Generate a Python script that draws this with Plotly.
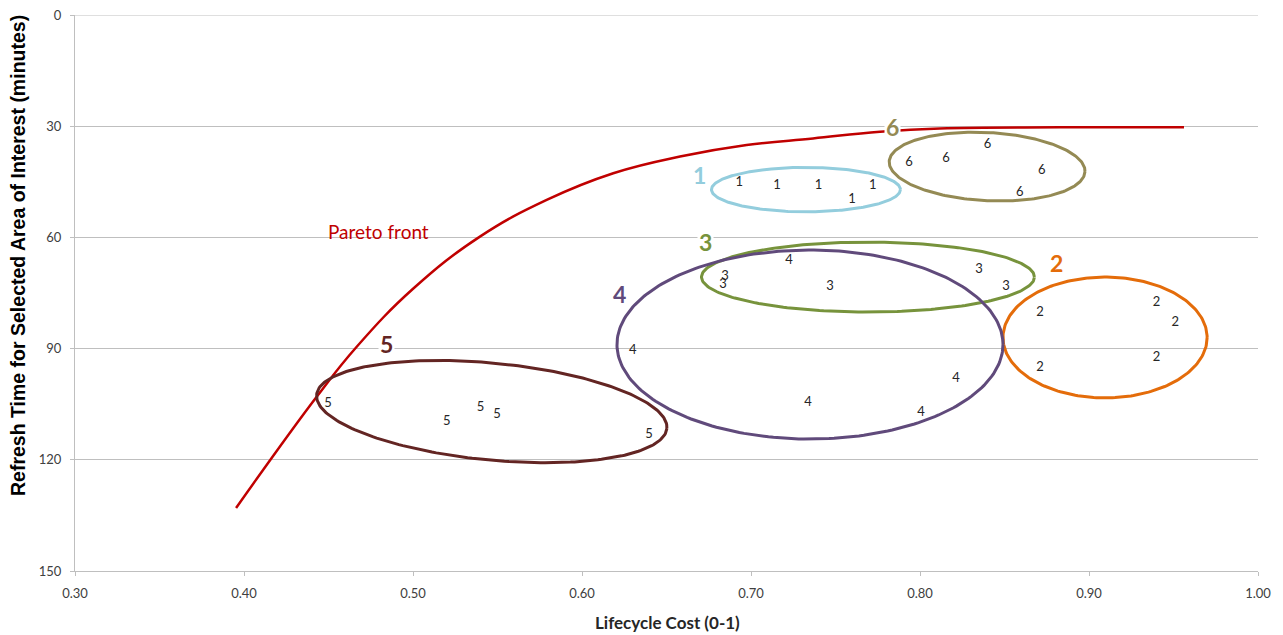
import numpy as np
import plotly.graph_objects as go

# ---------------- data ----------------
x_ticks = [0.30, 0.40, 0.50, 0.60, 0.70, 0.80, 0.90, 1.00]
y_ticks = [0, 30, 60, 90, 120, 150]

# Pareto front
pareto_x = [0.3953, 0.4430, 0.4667, 0.5002, 0.5396, 0.5791, 0.6185,
            0.6580, 0.6974, 0.7367, 0.7763, 0.8118, 0.8828, 0.9562]
pareto_y = [133.0, 103.0, 89.5, 73.8, 59.8, 49.9, 42.7,
            38.2, 35.1, 33.3, 31.5, 30.6, 30.3, 30.3]

# cluster member points (labelled by cluster number)
c1_x = [0.693, 0.7154, 0.740, 0.7598, 0.772]
c1_y = [45.3, 46.1, 46.1, 49.9, 46.1]
c2_x = [0.871, 0.940, 0.951, 0.871, 0.940]
c2_y = [80.4, 77.7, 83.1, 95.2, 92.5]
c3_x = [0.6846, 0.6834, 0.7467, 0.8349, 0.8509]
c3_y = [70.7, 72.8, 73.4, 68.8, 73.4]
c4_x = [0.7225, 0.630, 0.7337, 0.8213, 0.8006]
c4_y = [66.4, 90.6, 104.7, 98.2, 107.4]
c5_x = [0.4497, 0.520, 0.540, 0.5497, 0.6396]
c5_y = [104.9, 109.8, 106.0, 107.9, 113.3]
c6_x = [0.7935, 0.8154, 0.840, 0.872, 0.859]
c6_y = [39.9, 38.8, 35.1, 42.1, 48.0]

cluster_names = ["1", "2", "3", "4", "5", "6"]
cluster_colors = ["#93CDDD", "#E46C0A", "#77933C", "#604A7B", "#632523", "#948A54"]
cluster_xs = [c1_x, c2_x, c3_x, c4_x, c5_x, c6_x]
cluster_ys = [c1_y, c2_y, c3_y, c4_y, c5_y, c6_y]

# ellipse: centre x, centre y, semi-axis (x units), semi-axis (y units), tilt deg
ell_cx = [0.7325, 0.9095, 0.7692, 0.7349, 0.5466, 0.8397]
ell_cy = [47.1, 87.0, 70.7, 88.9, 107.0, 40.9]
ell_a = [0.0559, 0.0604, 0.0985, 0.1142, 0.1041, 0.0580]
ell_b = [5.99, 16.3, 9.44, 25.5, 13.08, 9.2]
ell_tilt = [0, 0, 0, 0, 5.5, 3]

# big cluster-number labels
lab_x = [0.6698, 0.8805, 0.6728, 0.6219, 0.4846, 0.7840]
lab_y = [43.2, 66.9, 61.2, 75.3, 88.8, 30.2]

# ---------------- layout geometry ----------------
BODY = 8                      # default page margin around the plot div
W, H = 1283 - BODY, 635 - BODY
ML, MT = 75 - BODY, 15 - BODY
MR = W - (1258 - BODY)
MB = H - (571 - BODY)
PW, PH = W - ML - MR, H - MT - MB
XR = [0.30, 1.00]
YR = [150, 0]
sx = PW / (XR[1] - XR[0])
sy = PH / abs(YR[0] - YR[1])


def paper_x(page_px):
    return (page_px - BODY - ML) / PW


def paper_y(page_py):
    return 1 - (page_py - BODY - MT) / PH


fig = go.Figure()

# Pareto front
fig.add_trace(go.Scatter(x=pareto_x, y=pareto_y, mode="lines",
                         line=dict(color="#C00000", width=2.5, shape="spline", smoothing=1.2),
                         hoverinfo="skip", showlegend=False))

# ellipses
t = np.linspace(0, 2 * np.pi, 240)
for i in range(6):
    th = np.deg2rad(ell_tilt[i])
    u = ell_a[i] * sx * np.cos(t)
    v = ell_b[i] * sy * np.sin(t)
    px = u * np.cos(th) - v * np.sin(th)
    py = u * np.sin(th) + v * np.cos(th)
    fig.add_trace(go.Scatter(x=ell_cx[i] + px / sx, y=ell_cy[i] + py / sy, mode="lines",
                             line=dict(color=cluster_colors[i], width=3),
                             hoverinfo="skip", showlegend=False))

# member points as text
for i in range(6):
    fig.add_trace(go.Scatter(x=cluster_xs[i], y=cluster_ys[i], mode="text",
                             text=[cluster_names[i]] * len(cluster_xs[i]),
                             textposition="middle center",
                             textfont=dict(family="Lato", size=13, color="#262626"),
                             hoverinfo="skip", showlegend=False))

# big labels
for i in range(6):
    fig.add_annotation(x=lab_x[i], y=lab_y[i], text="<b>%s</b>" % cluster_names[i],
                       showarrow=False, bgcolor="white", borderpad=1,
                       font=dict(family="Lato", size=23, color=cluster_colors[i]))

fig.add_annotation(x=0.4793, y=58.5, text="Pareto front", showarrow=False,
                   font=dict(family="Lato", size=19, color="#C00000"))

# axis titles
fig.add_annotation(xref="paper", yref="paper", x=paper_x(667), y=paper_y(622),
                   xanchor="center", yanchor="middle",
                   text="<b>Lifecycle Cost (0-1)</b>", showarrow=False,
                   font=dict(family="Lato", size=17, color="#262626"))
fig.add_annotation(xref="paper", yref="paper", x=paper_x(18), y=paper_y(256),
                   xanchor="center", yanchor="middle",
                   text="<b>Refresh Time for Selected Area of Interest (minutes)</b>",
                   textangle=-90, showarrow=False,
                   font=dict(family="Liberation Sans", size=19.5, color="#000000"))

# top gridline (value 0 at the upper edge)
fig.add_shape(type="line", xref="paper", yref="y", x0=0, x1=1, y0=0, y1=0,
              line=dict(color="#BFBFBF", width=1), layer="below")

fig.update_layout(
    width=W, height=H, autosize=False,
    margin=dict(l=ML, r=MR, t=MT, b=MB, autoexpand=False),
    paper_bgcolor="white", plot_bgcolor="white",
    showlegend=False,
    xaxis=dict(range=XR, tickvals=x_ticks, tickformat=".2f", showgrid=False,
               zeroline=False, showline=True, linecolor="#BFBFBF", linewidth=1,
               ticks="outside", ticklen=4, tickcolor="#BFBFBF", ticklabelstandoff=6,
               ticklabeloverflow="allow", automargin=False,
               tickfont=dict(family="Lato", size=13, color="#404040")),
    yaxis=dict(range=YR, tickvals=y_ticks, showgrid=True, gridcolor="#BFBFBF",
               gridwidth=1, zeroline=False, showline=True, linecolor="#BFBFBF",
               linewidth=1, ticks="outside", ticklen=4, tickcolor="#BFBFBF",
               ticklabelstandoff=6, ticklabeloverflow="allow", automargin=False,
               tickfont=dict(family="Lato", size=13, color="#404040")),
)

fig.write_html("out.html")
